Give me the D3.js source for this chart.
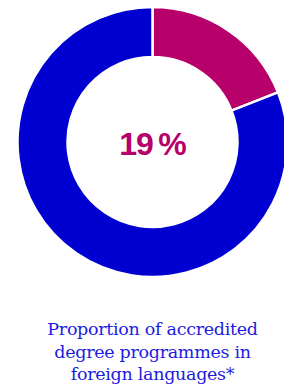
<!DOCTYPE html>
<html>
<head>
<meta charset="utf-8">
<script src="https://cdn.jsdelivr.net/npm/d3@7"></script>
<style>
  body { margin: 0; background: #fff; }
  svg { display: block; }
</style>
</head>
<body>
<div id="chart"></div>
<script>
// share of accredited programmes taught in foreign languages
var labels = ["foreign languages", "other"],
    values = [19, 81],
    colors = ["#b8006b", "#0000d0"],
    captionLines = ["Proportion of accredited", "degree programmes in", "foreign languages*"];

var width = 284,
    height = 387,
    cx = 152.5,
    cy = 142,
    outerR = 135,
    innerR = 85;

var svg = d3.select("#chart").append("svg")
    .attr("width", width)
    .attr("height", height);

var pie = d3.pie().sort(null).value(function(d) { return d; });
var arc = d3.arc().innerRadius(innerR).outerRadius(outerR);

var g = svg.append("g")
    .attr("transform", "translate(" + cx + "," + cy + ")");

g.selectAll("path")
    .data(pie(values))
    .enter().append("path")
        .attr("d", arc)
        .attr("fill", function(d, i) { return colors[i]; })
        .attr("stroke", "#fff")
        .attr("stroke-width", 2.5);

g.append("text")
    .text(values[0] + "\u2009%")
    .attr("x", 0)
    .attr("y", 13)
    .style("text-anchor", "middle")
    .style("font-family", "'Liberation Sans', Arial, sans-serif")
    .style("font-weight", "bold")
    .style("font-size", "32px")
    .style("letter-spacing", "-1px")
    .style("fill", colors[0]);

svg.selectAll(".caption")
    .data(captionLines)
    .enter().append("text")
        .attr("class", "caption")
        .text(function(d) { return d; })
        .attr("x", cx)
        .attr("y", function(d, i) { return 335 + i * 22.5; })
        .style("text-anchor", "middle")
        .style("font-family", "'DejaVu Serif', serif")
        .style("font-size", "17.5px")
        .style("letter-spacing", "-0.3px")
        .style("fill", "#1c1ce0");
</script>
</body>
</html>
